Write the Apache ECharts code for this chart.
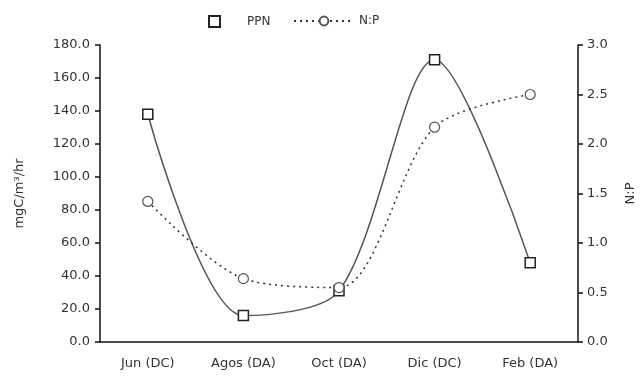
<!DOCTYPE html>
<html>
<head>
<meta charset="utf-8">
<script src="https://cdn.jsdelivr.net/npm/echarts@6/dist/echarts.min.js"></script>
<style>
  html, body { margin: 0; padding: 0; background: #fff; }
  #chart { width: 640px; height: 376px; }
</style>
</head>
<body>
<div id="chart"></div>
<script>
    // datos
    var months = ['Jun (DC)', 'Agos (DA)', 'Oct (DA)', 'Dic (DC)', 'Feb (DA)'];
    var ppn = [138, 16, 31, 171, 48];
    var np = [1.42, 0.64, 0.55, 2.17, 2.50];

    var myChart = echarts.init(document.getElementById('chart'));

    var font = 'DejaVu Sans';
    var option = {
        animation: false,
        textStyle: { fontFamily: font, color: '#222' },
        legend: [
            {
                top: 10,
                left: 203,
                itemWidth: 11,
                itemHeight: 11,
                itemGap: 4,
                textStyle: { fontSize: 12, color: '#333', padding: [0, 0, 0, 22] },
                data: [{ name: 'PPN', icon: 'rect' }]
            },
            {
                top: 10,
                left: 288,
                itemWidth: 60,
                itemHeight: 11,
                textStyle: { fontSize: 12, color: '#333' },
                data: [{ name: 'N:P' }]
            }
        ],
        grid: {
            left: 100,
            right: 62,
            top: 45,
            bottom: 34,
            outerBoundsMode: 'none'
        },
        xAxis: {
            type: 'category',
            boundaryGap: true,
            data: months,
            axisLine: { lineStyle: { color: '#111', width: 1.5 } },
            axisTick: { length: 5, lineStyle: { color: '#111', width: 1.5 } },
            axisLabel: { fontSize: 13, color: '#333', margin: 15 }
        },
        yAxis: [
            {
                type: 'value',
                min: 0,
                max: 180,
                interval: 20,
                name: 'mgC/m³/hr',
                nameLocation: 'middle',
                nameGap: 74,
                nameRotate: 90,
                nameTextStyle: { fontSize: 13, color: '#333' },
                axisLine: { show: true, lineStyle: { color: '#111', width: 1.5 } },
                axisTick: { show: true, length: 5, lineStyle: { color: '#111', width: 1.5 } },
                axisLabel: {
                    fontSize: 13, color: '#333', margin: 10,
                    formatter: function (v) { return v.toFixed(1); }
                },
                splitLine: { show: false }
            },
            {
                type: 'value',
                min: 0,
                max: 3,
                interval: 0.5,
                name: 'N:P',
                nameLocation: 'middle',
                nameGap: 46,
                nameRotate: 90,
                nameTextStyle: { fontSize: 13, color: '#333' },
                axisLine: { show: true, lineStyle: { color: '#111', width: 1.5 } },
                axisTick: { show: true, length: 5, lineStyle: { color: '#111', width: 1.5 } },
                axisLabel: {
                    fontSize: 13, color: '#333', margin: 9,
                    formatter: function (v) { return v.toFixed(1); }
                },
                splitLine: { show: false }
            }
        ],
        series: [
            {
                name: 'PPN',
                type: 'line',
                yAxisIndex: 0,
                data: ppn,
                smooth: 0.3,
                symbol: 'rect',
                symbolSize: 10,
                lineStyle: { color: '#555', width: 1.5 },
                itemStyle: { color: '#fff', borderColor: '#222', borderWidth: 1.5 }
            },
            {
                name: 'N:P',
                type: 'line',
                yAxisIndex: 1,
                data: np,
                smooth: 0.3,
                symbol: 'circle',
                symbolSize: 10,
                lineStyle: { color: '#333', width: 1.5, type: [2, 4] },
                itemStyle: { color: '#fff', borderColor: '#555', borderWidth: 1.2 }
            }
        ]
    };

    myChart.setOption(option);
</script>
</body>
</html>
